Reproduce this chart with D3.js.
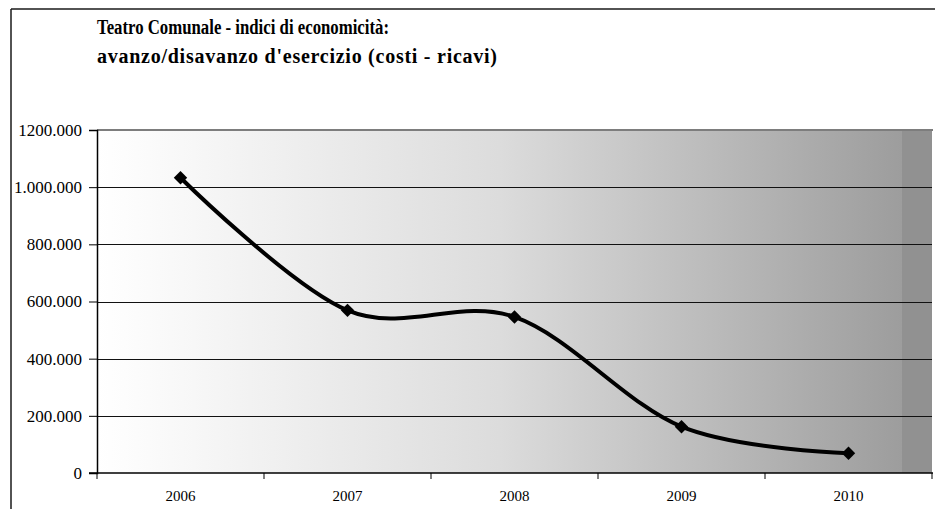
<!DOCTYPE html>
<html><head><meta charset="utf-8">
<script src="https://cdn.jsdelivr.net/npm/d3@7"></script>
<style>html,body{margin:0;padding:0;background:#fff;}svg{display:block;}
svg text{font-family:"Liberation Serif","Times New Roman",Tinos,"DejaVu Serif",serif;}
</style>
</head><body>
<svg id="c" width="935" height="509"></svg>
<script>
const titleLines = ["Teatro Comunale - indici di economicità:", "avanzo/disavanzo d'esercizio (costi - ricavi)"];
const categories = ["2006", "2007", "2008", "2009", "2010"];
const values = [1033000, 569000, 546000, 162000, 69000];
const yTicks = [0, 200000, 400000, 600000, 800000, 1000000, 1200000];
const yTickLabels = ["0", "200.000", "400.000", "600.000", "800.000", "1.000.000", "1200.000"];

const svg = d3.select("#c");
const L = 97, R = 932, T = 130, B = 473;

const x = d3.scaleBand().domain(categories).range([L, R]).paddingInner(0).paddingOuter(0);
const y = d3.scaleLinear().domain([0, 1200000]).range([B, T]);

// outer frame
svg.append("line").attr("x1", 11).attr("x2", 935).attr("y1", 9).attr("y2", 9).attr("stroke", "#1a1a1a").attr("stroke-width", 1.5);
svg.append("line").attr("x1", 11).attr("x2", 11).attr("y1", 9).attr("y2", 509).attr("stroke", "#1a1a1a").attr("stroke-width", 1.5);

// gradient background
const defs = svg.append("defs");
const g = defs.append("linearGradient").attr("id", "bg").attr("gradientUnits", "userSpaceOnUse")
  .attr("x1", L).attr("x2", 902).attr("y1", 0).attr("y2", 0);
g.append("stop").attr("offset", "0").attr("stop-color", "#ffffff");
g.append("stop").attr("offset", "0.05").attr("stop-color", "#fcfcfc");
g.append("stop").attr("offset", "0.5").attr("stop-color", "#dcdcdc");
g.append("stop").attr("offset", "1").attr("stop-color", "#9d9d9d");
svg.append("rect").attr("x", L).attr("y", T).attr("width", 902 - L).attr("height", B - T).attr("fill", "url(#bg)");
svg.append("rect").attr("x", 902).attr("y", T).attr("width", R - 902).attr("height", B - T).attr("fill", "#919191");

// top border of plot
svg.append("line").attr("x1", L).attr("x2", R + 1).attr("y1", T).attr("y2", T).attr("stroke", "#7d7d7d").attr("stroke-width", 2);

// gridlines
svg.append("g").selectAll("line").data(yTicks.filter(d => d > 0 && d < 1200000)).join("line")
  .attr("x1", L).attr("x2", R).attr("y1", d => Math.round(y(d)) + 0.5).attr("y2", d => Math.round(y(d)) + 0.5)
  .attr("stroke", "#111").attr("stroke-width", 1);

// y axis
const yAxis = d3.axisLeft(y).tickValues(yTicks).tickSize(8).tickPadding(7)
  .tickFormat((d, i) => yTickLabels[i]);
const ya = svg.append("g").attr("transform", `translate(${L},0)`).call(yAxis);
ya.attr("font-family", null).attr("font-size", null);
ya.select(".domain").attr("stroke", "#000").attr("stroke-width", 1.5);
ya.selectAll(".tick line").attr("stroke", "#000");
ya.selectAll("text").attr("font-size", 17).attr("fill", "#000");

// x axis: ticks at category boundaries
const xa = svg.append("g").attr("transform", `translate(0,${B})`);
xa.append("line").attr("x1", L - 8).attr("x2", R + 1).attr("y1", 0).attr("y2", 0).attr("stroke", "#000").attr("stroke-width", 1.5);
const bounds = categories.map(c => x(c)).concat([x(categories[categories.length - 1]) + x.bandwidth()]);
xa.selectAll("line.tk").data(bounds).join("line").attr("class", "tk")
  .attr("x1", d => d).attr("x2", d => d).attr("y1", 0).attr("y2", 6).attr("stroke", "#000");
xa.selectAll("text").data(categories).join("text")
  .attr("x", d => x(d) + x.bandwidth() / 2).attr("y", 28).attr("text-anchor", "middle")
  .attr("font-size", 15).attr("fill", "#000")
  .text(d => d);

// line
const pts = categories.map((c, i) => [x(c) + x.bandwidth() / 2, y(values[i])]);
const line = d3.line().curve(d3.curveCardinal.tension(0));
svg.append("path").attr("d", line(pts)).attr("fill", "none").attr("stroke", "#000").attr("stroke-width", 4).attr("stroke-linejoin", "round");

// markers (diamonds)
svg.append("g").selectAll("path").data(pts).join("path")
  .attr("transform", d => `translate(${d[0]},${d[1]}) rotate(45)`)
  .attr("d", d3.symbol().type(d3.symbolSquare).size(90)())
  .attr("fill", "#000");

// title
svg.append("g").selectAll("text").data(titleLines).join("text")
  .attr("x", 97).attr("y", (d, i) => 34 + i * 29)
  .attr("font-weight", "bold")
  .attr("font-size", 20).attr("fill", "#000")
  .attr("textLength", (d, i) => i === 0 ? 292 : 400)
  .attr("lengthAdjust", (d, i) => i === 0 ? "spacingAndGlyphs" : "spacing")
  .text(d => d);
</script>
</body></html>
